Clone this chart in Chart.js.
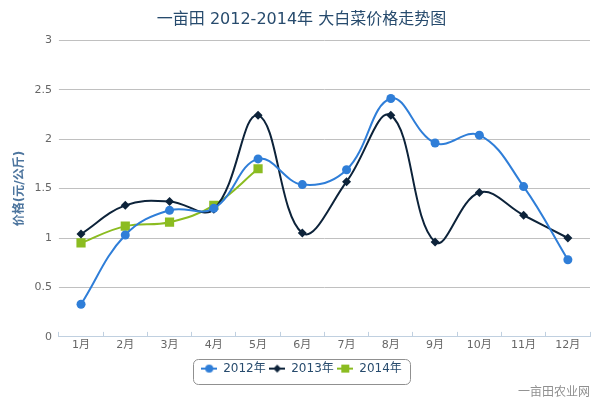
<!DOCTYPE html>
<html>
<head>
<meta charset="utf-8">
<script src="https://cdn.jsdelivr.net/npm/chart.js@4"></script>
<style>
    html, body { margin: 0; padding: 0; background: #fff; }
    #wrap { width: 600px; height: 400px; position: relative; }
</style>
</head>
<body>
<div id="wrap"><canvas id="priceChart"></canvas></div>
<script>
const months = ['1月', '2月', '3月', '4月', '5月', '6月', '7月', '8月', '9月', '10月', '11月', '12月'];
const price2012 = [0.33, 1.03, 1.28, 1.30, 1.80, 1.54, 1.69, 2.41, 1.96, 2.04, 1.52, 0.78];
const price2013 = [1.04, 1.33, 1.37, 1.29, 2.24, 1.05, 1.57, 2.24, 0.96, 1.46, 1.23, 1.00];
const price2014 = [0.95, 1.12, 1.16, 1.33, 1.70];
const yTicks = [0, 0.5, 1, 1.5, 2, 2.5, 3];

const FONT = '"DejaVu Sans", "Noto Sans CJK SC", sans-serif';

// legend symbol: short line with the marker on top
function legendIcon(color, style) {
    const c = document.createElement('canvas');
    c.width = 16; c.height = 10;
    const g = c.getContext('2d');
    g.strokeStyle = color;
    g.fillStyle = color;
    g.lineWidth = 2;
    g.beginPath();
    g.moveTo(0, 5); g.lineTo(16, 5);
    g.stroke();
    g.beginPath();
    if (style === 'circle') {
        g.arc(8, 5, 4, 0, Math.PI * 2);
    } else if (style === 'diamond') {
        g.moveTo(8, 1); g.lineTo(12, 5); g.lineTo(8, 9); g.lineTo(4, 5);
    } else {
        g.rect(4, 1, 8, 8);
    }
    g.fill();
    return c;
}

const series = [
    { label: '2012年', data: price2012, color: '#2f7ed8', point: 'circle', radius: 4.5, icon: 'circle' },
    { label: '2013年', data: price2013, color: '#0d233a', point: 'rectRot', radius: 4.5, icon: 'diamond' },
    { label: '2014年', data: price2014, color: '#8bbc21', point: 'rect', radius: 6.5, icon: 'square' }
];

// rounded frame around the legend items
const legendFrame = {
    id: 'legendFrame',
    afterDraw(chart) {
        const lg = chart.legend;
        if (!lg || !lg.legendHitBoxes || !lg.legendHitBoxes.length) return;
        const boxes = lg.legendHitBoxes;
        const minX = Math.min(...boxes.map(b => b.left));
        const maxX = Math.max(...boxes.map(b => b.left + b.width));
        const ctx = chart.ctx;
        ctx.save();
        ctx.strokeStyle = '#909090';
        ctx.lineWidth = 1;
        ctx.beginPath();
        ctx.roundRect(Math.round(minX - 8) + 0.5, Math.round(lg.top) + 0.5,
            Math.round(maxX - minX + 16), Math.round(lg.height) - 1, 5);
        ctx.stroke();
        ctx.restore();
    }
};

new Chart(document.getElementById('priceChart'), {
    type: 'line',
    data: {
        labels: months,
        datasets: series.map(s => ({
            label: s.label,
            data: s.data,
            borderColor: s.color,
            backgroundColor: s.color,
            borderWidth: 2,
            pointStyle: s.point,
            pointRadius: s.radius,
            pointBorderWidth: 0,
            pointBackgroundColor: s.color,
            tension: 0.4,
            fill: false,
            icon: legendIcon(s.color, s.icon)
        }))
    },
    options: {
        responsive: true,
        maintainAspectRatio: false,
        animation: false,
        layout: { padding: { left: 13, right: 10, top: 0, bottom: 0 } },
        plugins: {
            title: {
                display: true,
                text: '一亩田 2012-2014年 大白菜价格走势图',
                color: '#274b6d',
                font: { family: FONT, size: 16, weight: 'normal' },
                padding: { top: 10, bottom: 11 }
            },
            subtitle: {
                display: true,
                position: 'bottom',
                align: 'end',
                text: '一亩田农业网',
                color: '#909090',
                font: { family: FONT, size: 12 },
                padding: { top: 1, bottom: 0 }
            },
            legend: {
                position: 'bottom',
                labels: {
                    color: '#274b6d',
                    font: { family: FONT, size: 12 },
                    usePointStyle: true,
                    pointStyleWidth: 16,
                    padding: 3.5,
                    boxWidth: 16,
                    boxHeight: 10,
                    generateLabels(chart) {
                        return chart.data.datasets.map((ds, i) => ({
                            text: ds.label,
                            pointStyle: ds.icon,
                            fontColor: '#274b6d',
                            hidden: !chart.isDatasetVisible(i),
                            datasetIndex: i
                        }));
                    }
                }
            },
            tooltip: { enabled: false }
        },
        scales: {
            x: {
                offset: true,
                grid: {
                    offset: true,
                    drawOnChartArea: false,
                    tickLength: -5,
                    color: '#C0D0E0'
                },
                border: { color: '#C0D0E0' },
                ticks: {
                    color: '#666',
                    font: { family: FONT, size: 11 },
                    padding: 7,
                    maxRotation: 0
                }
            },
            y: {
                min: 0,
                max: 3,
                afterBuildTicks(scale) {
                    scale.ticks = yTicks.map(v => ({ value: v }));
                },
                grid: { color: '#C0C0C0', tickLength: 0 },
                border: { display: false },
                ticks: {
                    color: '#666',
                    font: { family: FONT, size: 11 },
                    padding: 7,
                    callback: v => String(v)
                },
                title: {
                    display: true,
                    text: '价格(元/公斤)',
                    color: '#4d759e',
                    font: { family: FONT, size: 12, weight: 'bold' },
                    padding: { top: 0, bottom: 0 }
                }
            }
        }
    },
    plugins: [legendFrame]
});
</script>
</body>
</html>
